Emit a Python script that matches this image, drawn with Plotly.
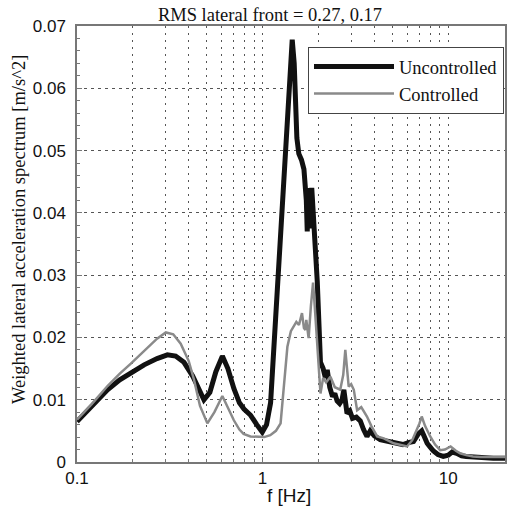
import plotly.graph_objects as go

# ---- data ----
freq_unc = [0.1, 0.12, 0.146, 0.17, 0.195, 0.23, 0.27, 0.307, 0.34, 0.377, 0.42, 0.46, 0.483,
            0.52, 0.56, 0.607, 0.65, 0.70, 0.75, 0.794, 0.862, 0.93, 0.996, 1.05, 1.104, 1.175,
            1.25, 1.33, 1.40, 1.444, 1.48, 1.53, 1.567, 1.62, 1.67, 1.72, 1.74, 1.76, 1.77,
            1.79, 1.81, 1.84, 1.87, 1.93, 1.97, 2.05, 2.12, 2.18, 2.23, 2.3, 2.38, 2.45, 2.52,
            2.6, 2.68, 2.74, 2.8, 2.85, 2.95, 3.05, 3.2, 3.36, 3.5, 3.65, 3.8, 4.0, 4.3, 4.6,
            5.0, 5.3, 5.7, 6.1, 6.5, 6.9, 7.2, 7.4, 7.7, 8.0, 8.3, 8.8, 9.4, 10.0, 10.5, 11.1,
            11.8, 12.5, 13.6, 14.5, 15.5, 16.5, 17.5, 18.5, 20.5]
uncontrolled = [0.0065, 0.0089, 0.0116, 0.0132, 0.0143, 0.0156, 0.0166, 0.0172, 0.0170, 0.0160,
                0.0138, 0.0110, 0.0100, 0.0112, 0.0145, 0.0170, 0.0150, 0.0118, 0.0095, 0.0085,
                0.0075, 0.0060, 0.0048, 0.0060, 0.0095, 0.0230, 0.0360, 0.0500, 0.0620, 0.0678,
                0.0640, 0.0520, 0.0495, 0.0485, 0.0470, 0.0420, 0.0370, 0.0440, 0.0385, 0.0430,
                0.0375, 0.0440, 0.0400, 0.0360, 0.0290, 0.0160, 0.0150, 0.0135, 0.0148, 0.0120,
                0.0105, 0.0110, 0.0098, 0.0094, 0.0100, 0.0116, 0.0085, 0.0078, 0.0082, 0.0070,
                0.0072, 0.0066, 0.0052, 0.0041, 0.0050, 0.0042, 0.0036, 0.0034, 0.0031, 0.0030,
                0.0028, 0.0031, 0.0033, 0.0045, 0.0050, 0.0042, 0.0030, 0.0024, 0.0018, 0.0012,
                0.0009, 0.0011, 0.0016, 0.0014, 0.0010, 0.0009, 0.0008, 0.0008, 0.0006, 0.0007,
                0.0006, 0.0006, 0.0006]

freq_ctl = [0.1, 0.12, 0.146, 0.17, 0.195, 0.23, 0.27, 0.301, 0.33, 0.362, 0.40, 0.427, 0.46,
            0.504, 0.55, 0.607, 0.65, 0.70, 0.75, 0.79, 0.86, 0.94, 1.02, 1.10, 1.18, 1.25,
            1.30, 1.36, 1.42, 1.47, 1.52, 1.57, 1.63, 1.67, 1.70, 1.72, 1.77, 1.82, 1.87, 1.91,
            1.97, 2.05, 2.12, 2.2, 2.32, 2.45, 2.62, 2.72, 2.79, 2.85, 2.91, 3.0, 3.1, 3.23,
            3.4, 3.65, 3.85, 4.14, 4.5, 5.08, 5.5, 6.0, 6.4, 6.78, 7.0, 7.2, 7.5, 8.0, 8.5,
            9.05, 9.6, 10.3, 11.0, 11.6, 12.5, 13.6, 15.0, 17.0, 20.5]
controlled = [0.0068, 0.0093, 0.0122, 0.0142, 0.0158, 0.0178, 0.0198, 0.0208, 0.0205, 0.0190,
              0.0162, 0.0132, 0.0090, 0.0062, 0.0080, 0.0106, 0.0088, 0.0067, 0.0052, 0.0045,
              0.0041, 0.0040, 0.0040, 0.0043, 0.0050, 0.0062, 0.0120, 0.0185, 0.0210, 0.0217,
              0.0225, 0.0220, 0.0239, 0.0215, 0.0212, 0.0228, 0.0199, 0.0250, 0.0288, 0.0250,
              0.0185, 0.0110, 0.0135, 0.0128, 0.0137, 0.0120, 0.0116, 0.0140, 0.0180, 0.0150,
              0.0121, 0.0125, 0.0116, 0.0083, 0.0088, 0.0073, 0.0058, 0.0041, 0.0038, 0.0030,
              0.0028, 0.0025, 0.0035, 0.0051, 0.0062, 0.0073, 0.0058, 0.0041, 0.0028, 0.0019,
              0.0020, 0.0025, 0.0018, 0.0014, 0.0011, 0.0009, 0.0008, 0.0008, 0.0008]

x_major = [0.1, 1, 10]
x_major_labels = ["0.1", "1", "10"]
x_minor = [0.2, 0.3, 0.4, 0.5, 0.6, 0.7, 0.8, 0.9, 2, 3, 4, 5, 6, 7, 8, 9, 20]

title_text = "RMS lateral front = 0.27, 0.17"
y_title = "Weighted lateral acceleration spectrum [m/s^2]"
x_title = "f [Hz]"

SERIF = "Liberation Serif, Times New Roman, serif"
SANS = "Liberation Sans, Arial, sans-serif"

L, R, T, B = 77, 2, 26, 51
W, H = 507, 513
PW, PH = W - L - R, H - T - B

fig = go.Figure()
fig.add_trace(go.Scatter(x=freq_unc, y=uncontrolled, mode="lines", name="Uncontrolled",
                         line=dict(color="#111111", width=5)))
fig.add_trace(go.Scatter(x=freq_ctl, y=controlled, mode="lines", name="Controlled",
                         line=dict(color="#8a8a8a", width=2.5)))

GRID = "#555555"
fig.update_layout(
    width=W, height=H,
    margin=dict(l=L, r=R, t=T, b=B, autoexpand=False),
    paper_bgcolor="white", plot_bgcolor="white",
    title=dict(text=title_text, x=270/W, xanchor="center", y=1-15/H, yanchor="middle",
               font=dict(family=SERIF, size=18.5, color="#111")),
    legend=dict(x=(308-L)/PW, y=(H-B-47)/PH, xanchor="left", yanchor="top",
                bgcolor="white", bordercolor="#444", borderwidth=1,
                font=dict(family=SERIF, size=18.5, color="#111"),
                itemwidth=80),
    showlegend=True,
)
fig.update_xaxes(
    type="log", range=[-1, 1.306], automargin=False,
    tickvals=x_major, ticktext=x_major_labels,
    tickfont=dict(family=SANS, size=17, color="#111"),
    ticks="inside", ticklen=5, tickcolor="#777",
    showline=True, linecolor="#777", linewidth=1.5, mirror=True,
    showgrid=True, gridcolor=GRID, griddash="2px,5px", gridwidth=1,
    minor=dict(tickvals=x_minor, ticks="inside", ticklen=3, tickcolor="#777",
               showgrid=True, gridcolor=GRID, griddash="2px,5px", gridwidth=1),
    zeroline=False,
)
fig.update_yaxes(
    range=[0, 0.07], dtick=0.01, automargin=False,
    tickfont=dict(family=SANS, size=17, color="#111"),
    ticks="inside", ticklen=5, tickcolor="#777",
    ticklabelstandoff=6,
    showline=True, linecolor="#777", linewidth=1.5, mirror=True,
    showgrid=True, gridcolor=GRID, griddash="3px,4px", gridwidth=1,
    minor=dict(dtick=0.002, ticks="inside", ticklen=3, tickcolor="#777", showgrid=False),
    zeroline=False,
)
fig.add_annotation(text=y_title, xref="paper", yref="paper", x=(19-L)/PW, y=(H-B-230)/PH,
                   textangle=-90, showarrow=False, xanchor="center", yanchor="middle",
                   font=dict(family=SERIF, size=18.5, color="#111"))
fig.add_annotation(text=x_title, xref="paper", yref="paper", x=(289-L)/PW, y=(H-B-495)/PH,
                   showarrow=False, xanchor="center", yanchor="middle",
                   font=dict(family=SANS, size=19, color="#111"))

fig.write_html(
    "out.html",
    config={"displayModeBar": False},
    post_script="document.body.style.margin='0';document.body.style.overflow='hidden';",
)
